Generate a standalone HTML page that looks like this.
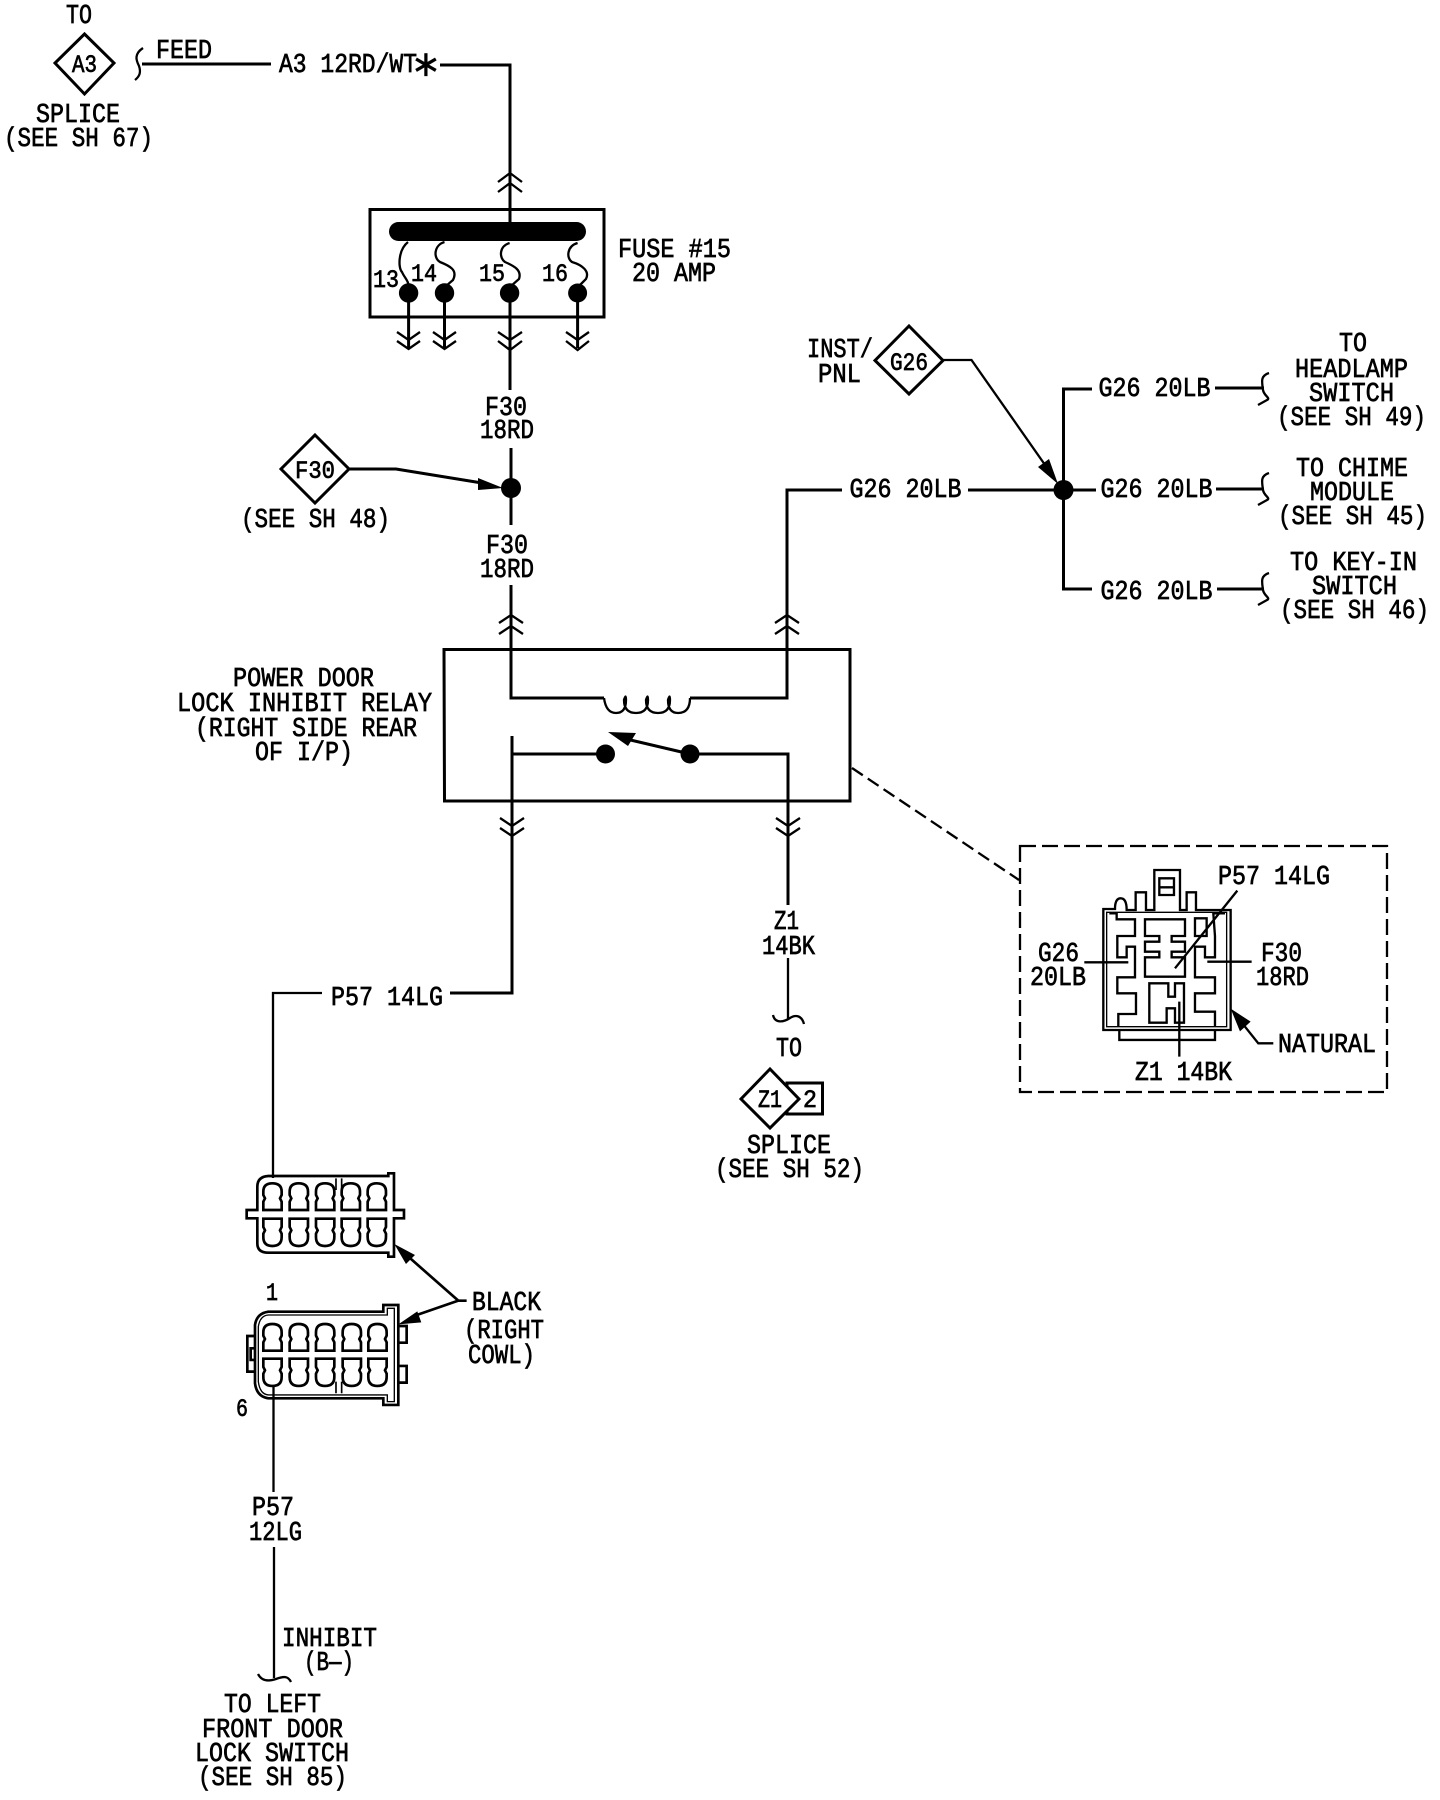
<!DOCTYPE html>
<html><head><meta charset="utf-8"><title>Power door lock inhibit relay wiring diagram</title>
<style>
html,body{margin:0;padding:0;background:#fff}
svg{display:block}
text{font-family:"Liberation Mono","DejaVu Sans Mono",monospace;font-size:27px;fill:#000;stroke:#000;stroke-width:.7px}
text.s{font-size:25px}
.w{fill:none;stroke:#000;stroke-width:3}
.t{fill:none;stroke:#000;stroke-width:2.3}
.k{fill:#000;stroke:none}
</style></head><body>
<svg xmlns="http://www.w3.org/2000/svg" width="1440" height="1800" viewBox="0 0 1440 1800">
<rect width="1440" height="1800" fill="#fff"/>

<!-- top left -->
<path class="w" d="M84.5,34 L114,63 L84.5,94 L55,63 Z"/>
<path class="t" d="M143,48 C134,54 136,60 139,66 C141,72 140,76 135,80"/>
<path class="w" d="M142,64 H271 M440,65 H510 V222"/>
<path class="t" d="M498,182 L510,173 L522,182 M498,192 L510,183 L522,192"/>

<!-- fuse box -->
<rect x="370" y="209.5" width="234" height="107.5" class="w"/>
<rect x="389" y="222" width="197" height="19" rx="9.5" class="k"/>
<path class="t" d="M408,242 C398,250 398,268 402,272 C404,277 408,280 408.6,285
M444.5,242 C434,245 433,258 440,262 C450,266 458,270 453,280 L446,286
M509.6,243 C499,246 499,258 505,262 C514,266 522,270 519,279 L511,286
M577.6,243 C567,246 566,258 572,262 C582,265 590,271 586,279 L579,286"/>
<circle cx="408.6" cy="293" r="9.7" class="k"/>
<circle cx="444.5" cy="293" r="9.7" class="k"/>
<circle cx="509.6" cy="293" r="9.7" class="k"/>
<circle cx="577.6" cy="293" r="9.5" class="k"/>
<path class="w" d="M408.6,293 V348 M444.5,293 V348 M577.6,293 V348 M510,293 V390"/>
<path class="t" d="M397,332 L408.6,340 L420,332 M397,341 L408.6,349 L420,341
M433,332 L444.5,340 L456,332 M433,341 L444.5,349 L456,341
M498,332 L510,340 L522,332 M498,341 L510,350 L522,341
M566,332 L577.6,340 L589,332 M566,341 L577.6,350 L589,341"/>

<!-- F30 diamond and splice -->
<path class="w" d="M315,435 L349,469 L315,503 L281,469 Z"/>
<path class="w" d="M349,469 H396 L482,483"/>
<path class="k" d="M503,488 L478,478 L478,490 Z"/>
<circle cx="511" cy="488" r="10" class="k"/>
<path class="w" d="M511,448 V525 M511,585 V698 H604 M690,698 H787 V490 H842"/>
<path class="t" d="M604,698 Q606,713 616,713 Q626,713 626,700 Q626,693 624,700 Q624,713 636,713 Q648,713 648,700 Q648,693 646,700 Q646,713 658,713 Q670,713 670,700 Q670,693 668,700 Q668,713 678,713 Q690,713 690,698"/>
<path class="t" d="M499,623 L511,615 L523,623 M499,634 L511,626 L523,634 M775,623 L787,615 L799,623 M775,634 L787,626 L799,634"/>

<!-- relay -->
<path class="w" d="M444,649.5 H850 V801 H444.5 Z"/>
<path class="w" d="M512,736 V993 H450 M512,754 H605 M690,754 H788 V905"/>
<circle cx="605.5" cy="754" r="9.5" class="k"/>
<circle cx="690" cy="754" r="9.5" class="k"/>
<path class="w" d="M690,754 L622,738"/>
<path class="k" d="M608,732 L636,733 L628,746 Z"/>
<path class="t" d="M500,818 L512,826 L524,818 M500,828 L512,836 L524,828 M776,818 L788,826 L800,818 M776,828 L788,836 L800,828"/>
<path class="t" stroke-dasharray="13 6" d="M852,768 L1019,880"/>

<!-- G26 group -->
<path class="w" d="M909,326 L943,360.5 L909,394 L875,360.5 Z"/>
<path class="t" d="M943,360 H971.5 L1050,472"/>
<path class="k" d="M1058,484 L1038,467 L1049,459 Z"/>
<circle cx="1063.5" cy="490" r="10" class="k"/>
<path class="w" d="M1092,389 H1063.5 V589 H1092 M968,490 H1096 M787,490 H837"/>
<path class="w" d="M1215,388 H1264 M1216,489 H1264 M1217,589 H1264"/>
<path class="t" d="M1269,373 C1260,376 1262,382 1263,390 C1264,396 1271,398 1267,400 L1258,405
M1269,473 C1260,476 1262,482 1263,490 C1264,496 1271,498 1267,500 L1258,505
M1269,573 C1260,576 1262,582 1263,590 C1264,596 1271,598 1267,600 L1258,605"/>

<!-- inset connector (zoom coordinates) -->
<path class="t" stroke-dasharray="16 6" stroke-width="2.5" d="M1020,846 H1387 V1092 H1020 Z"/>
<g transform="translate(1000,830) scale(.3333)">
<g fill="none" stroke="#000" stroke-width="7">
<path d="M310,237 H345 Q345,205 362,205 Q380,205 380,240 H407 V187 H438 V240 H463 V120 H540 V240 H560 V187 H588 V240 H692 V600 H310 Z"/>
<path stroke-width="4" d="M320,247 H680 V590 H320 Z"/>
<path d="M478,145 H522 V195 H478 Z M478,172 H522"/>
<path d="M358,600 V630 H645 V600"/>
<path d="M328,250 H350 V268 H405 V318 H352 V382 H380 V350 H405 V442 H352 V490 H408 V552 H355 V588"/>
<path d="M675,250 H640 L645,318 V382 H615 V350 H585 V442 H645 V490 H585 V545 H645 V588"/>
<path d="M585,265 H620 V318 H585 Z"/>
<path d="M435,268 H555 V318 H515 V335 H555 V365 H515 V382 H555 V440 H435 V382 H478 V365 H435 V335 H478 V318 H435 Z"/>
<path d="M448,460 H505 V500 H525 V460 H552 V578 H525 V535 H500 V578 H448 Z"/>
<path d="M253,397 H385 M622,395 H755 M712,182 L525,415 M538,515 V680 M820,640 H775 L715,565"/>
</g>
<path d="M692,536 L752,575 L720,604 Z" fill="#000"/>
</g>

<!-- P57 wires -->
<path class="t" d="M322,993 H273 V1178"/>

<!-- multi-pin connectors (zoom coordinates) -->
<g transform="translate(200,1150) scale(.3333)">
<defs>
<path id="ct" d="M0,80 V55 L5,45 L0,35 V25 Q0,0 27,0 Q55,0 55,25 V35 L50,45 L55,55 V80 Z"/>
<path id="cb" d="M0,0 V25 L5,35 L0,45 V55 Q0,82 27,82 Q55,82 55,55 V45 L50,35 L55,25 V0 Z"/>
</defs>
<g fill="none" stroke="#000" stroke-width="8">
<path d="M172,180 V110 Q172,80 205,78 H565 V70 H582 V180 H612 V205 H582 V320 H565 V308 H205 Q172,308 172,280 V205 H140 V180 Z"/>
<path stroke-width="5" d="M408,85 V120 M425,85 V120"/>
<use href="#ct" x="190" y="100"/><use href="#ct" x="269" y="100"/><use href="#ct" x="348" y="100"/><use href="#ct" x="425" y="100"/><use href="#ct" x="503" y="100"/>
<use href="#cb" x="190" y="206"/><use href="#cb" x="269" y="206"/><use href="#cb" x="348" y="206"/><use href="#cb" x="425" y="206"/><use href="#cb" x="503" y="206"/>
<path d="M165,525 Q170,490 205,485 H550 V465 H595 V765 H550 V745 H205 Q170,740 165,700 Z"/>
<path stroke-width="4" d="M175,530 Q180,497 205,495 H562 V475 H583 V755 H562 V735 H205 Q180,733 175,695 Z"/>
<path d="M165,558 H142 V665 H165 M165,595 H152 V630 H165"/>
<path d="M595,528 H620 V578 H595 M595,648 H620 V698 H595"/>
<use href="#ct" x="190" y="522"/><use href="#ct" x="269" y="522"/><use href="#ct" x="348" y="522"/><use href="#ct" x="428" y="522"/><use href="#ct" x="505" y="522"/>
<use href="#cb" x="190" y="626"/><use href="#cb" x="269" y="626"/><use href="#cb" x="348" y="626"/><use href="#cb" x="428" y="626"/><use href="#cb" x="505" y="626"/>
<path stroke-width="5" d="M408,695 V730 M425,695 V730"/>
<path d="M800,452 H775 L625,320 M775,452 L645,497"/>
</g>
<path d="M583,282 L645,315 L618,342 Z M595,523 L652,484 L664,517 Z" fill="#000"/>
</g>

<path class="t" d="M273.5,1386 V1492 M274,1547 V1678 M788,958 V1019"/>
<path class="t" d="M258,1674 C262,1682 270,1681 276,1679 C284,1676 288,1676 291,1682"/>
<path class="t" d="M773,1015 C775,1024 784,1022 790,1018 C796,1014 802,1016 804,1024"/>

<!-- Z1 diamond -->
<rect x="787" y="1083" width="35.5" height="31" class="w"/>
<path d="M770,1069 L799,1099 L770,1128 L741,1099 Z" fill="#fff" stroke="#000" stroke-width="3"/>

<!-- labels -->
<text x="66" y="23" textLength="26" lengthAdjust="spacingAndGlyphs">TO</text>
<text class="s" x="72" y="72" textLength="25" lengthAdjust="spacingAndGlyphs">A3</text>
<text x="36" y="122" textLength="84" lengthAdjust="spacingAndGlyphs">SPLICE</text>
<text x="4" y="146" textLength="149" lengthAdjust="spacingAndGlyphs">(SEE SH 67)</text>
<text x="156" y="58" textLength="56" lengthAdjust="spacingAndGlyphs">FEED</text>
<text x="279" y="72" textLength="138" lengthAdjust="spacingAndGlyphs">A3 12RD/WT</text>
<text x="426" y="76" text-anchor="middle" style="font-family:'DejaVu Sans',sans-serif;font-size:36px;stroke-width:.3px">∗</text>
<text class="s" x="373" y="287" textLength="26" lengthAdjust="spacingAndGlyphs">13</text>
<text class="s" x="411" y="281" textLength="26" lengthAdjust="spacingAndGlyphs">14</text>
<text class="s" x="479" y="281" textLength="26" lengthAdjust="spacingAndGlyphs">15</text>
<text class="s" x="542" y="281" textLength="26" lengthAdjust="spacingAndGlyphs">16</text>
<text x="618" y="257" textLength="113" lengthAdjust="spacingAndGlyphs">FUSE #15</text>
<text x="632" y="281" textLength="84" lengthAdjust="spacingAndGlyphs">20 AMP</text>
<text x="485" y="415" textLength="42" lengthAdjust="spacingAndGlyphs">F30</text>
<text x="480" y="438" textLength="54" lengthAdjust="spacingAndGlyphs">18RD</text>
<text class="s" x="295" y="478" textLength="40" lengthAdjust="spacingAndGlyphs">F30</text>
<text x="241" y="527" textLength="149" lengthAdjust="spacingAndGlyphs">(SEE SH 48)</text>
<text x="486" y="553" textLength="42" lengthAdjust="spacingAndGlyphs">F30</text>
<text x="480" y="577" textLength="54" lengthAdjust="spacingAndGlyphs">18RD</text>
<text x="233" y="686" textLength="141" lengthAdjust="spacingAndGlyphs">POWER DOOR</text>
<text x="177" y="711" textLength="255" lengthAdjust="spacingAndGlyphs">LOCK INHIBIT RELAY</text>
<text x="195" y="736" textLength="222" lengthAdjust="spacingAndGlyphs">(RIGHT SIDE REAR</text>
<text x="255" y="760" textLength="98" lengthAdjust="spacingAndGlyphs">OF I/P)</text>
<text class="s" x="890" y="370" textLength="38" lengthAdjust="spacingAndGlyphs">G26</text>
<text x="807" y="357" textLength="66" lengthAdjust="spacingAndGlyphs">INST/</text>
<text x="818" y="382" textLength="43" lengthAdjust="spacingAndGlyphs">PNL</text>
<text x="849.500" y="497" textLength="112" lengthAdjust="spacingAndGlyphs">G26 20LB</text>
<text x="1098.500" y="396" textLength="112" lengthAdjust="spacingAndGlyphs">G26 20LB</text>
<text x="1100.500" y="497" textLength="112" lengthAdjust="spacingAndGlyphs">G26 20LB</text>
<text x="1100.500" y="599" textLength="112" lengthAdjust="spacingAndGlyphs">G26 20LB</text>
<text x="1339" y="351" textLength="28" lengthAdjust="spacingAndGlyphs">TO</text>
<text x="1295" y="377" textLength="113" lengthAdjust="spacingAndGlyphs">HEADLAMP</text>
<text x="1309" y="401" textLength="85" lengthAdjust="spacingAndGlyphs">SWITCH</text>
<text x="1277" y="425" textLength="149" lengthAdjust="spacingAndGlyphs">(SEE SH 49)</text>
<text x="1296" y="476" textLength="112" lengthAdjust="spacingAndGlyphs">TO CHIME</text>
<text x="1310" y="500" textLength="84" lengthAdjust="spacingAndGlyphs">MODULE</text>
<text x="1278" y="524" textLength="149" lengthAdjust="spacingAndGlyphs">(SEE SH 45)</text>
<text x="1290" y="570" textLength="127" lengthAdjust="spacingAndGlyphs">TO KEY-IN</text>
<text x="1312" y="594" textLength="85" lengthAdjust="spacingAndGlyphs">SWITCH</text>
<text x="1280" y="618" textLength="149" lengthAdjust="spacingAndGlyphs">(SEE SH 46)</text>
<text x="1218" y="884" textLength="112" lengthAdjust="spacingAndGlyphs">P57 14LG</text>
<text x="1038" y="961" textLength="41" lengthAdjust="spacingAndGlyphs">G26</text>
<text x="1030" y="985" textLength="56" lengthAdjust="spacingAndGlyphs">20LB</text>
<text x="1261" y="961" textLength="41" lengthAdjust="spacingAndGlyphs">F30</text>
<text x="1256" y="985" textLength="53" lengthAdjust="spacingAndGlyphs">18RD</text>
<text x="1278" y="1052" textLength="98" lengthAdjust="spacingAndGlyphs">NATURAL</text>
<text x="1135" y="1080" textLength="97" lengthAdjust="spacingAndGlyphs">Z1 14BK</text>
<text x="331" y="1005" textLength="112" lengthAdjust="spacingAndGlyphs">P57 14LG</text>
<text x="774" y="929" textLength="25" lengthAdjust="spacingAndGlyphs">Z1</text>
<text x="762" y="954" textLength="53" lengthAdjust="spacingAndGlyphs">14BK</text>
<text x="776" y="1056" textLength="26" lengthAdjust="spacingAndGlyphs">TO</text>
<text class="s" x="758" y="1107" textLength="24" lengthAdjust="spacingAndGlyphs">Z1</text>
<text class="s" x="803" y="1107" textLength="14" lengthAdjust="spacingAndGlyphs">2</text>
<text x="747" y="1153" textLength="84" lengthAdjust="spacingAndGlyphs">SPLICE</text>
<text x="715" y="1177" textLength="149" lengthAdjust="spacingAndGlyphs">(SEE SH 52)</text>
<text class="s" x="266" y="1300" textLength="12" lengthAdjust="spacingAndGlyphs">1</text>
<text class="s" x="236" y="1416" textLength="12" lengthAdjust="spacingAndGlyphs">6</text>
<text x="472" y="1310" textLength="69" lengthAdjust="spacingAndGlyphs">BLACK</text>
<text x="464" y="1338" textLength="80" lengthAdjust="spacingAndGlyphs">(RIGHT</text>
<text x="468" y="1363" textLength="67" lengthAdjust="spacingAndGlyphs">COWL)</text>
<text x="252" y="1515" textLength="42" lengthAdjust="spacingAndGlyphs">P57</text>
<text x="249" y="1540" textLength="53" lengthAdjust="spacingAndGlyphs">12LG</text>
<text x="282" y="1646" textLength="95" lengthAdjust="spacingAndGlyphs">INHIBIT</text>
<text x="304" y="1670" textLength="50" lengthAdjust="spacingAndGlyphs">(B—)</text>
<text x="224" y="1712" textLength="97" lengthAdjust="spacingAndGlyphs">TO LEFT</text>
<text x="202" y="1737" textLength="141" lengthAdjust="spacingAndGlyphs">FRONT DOOR</text>
<text x="195" y="1761" textLength="154" lengthAdjust="spacingAndGlyphs">LOCK SWITCH</text>
<text x="198" y="1785" textLength="149" lengthAdjust="spacingAndGlyphs">(SEE SH 85)</text>
</svg>
</body></html>
